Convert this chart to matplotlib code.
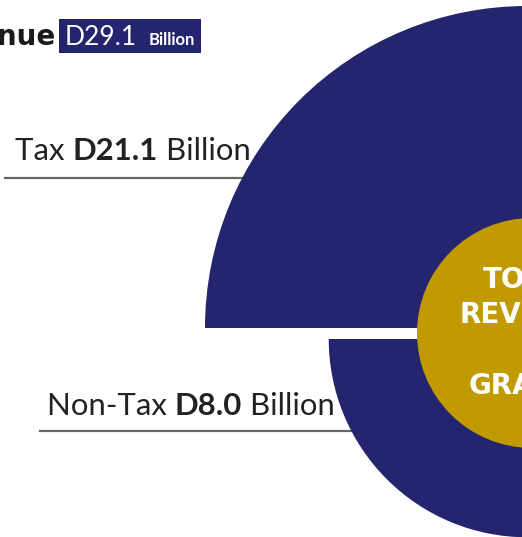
import numpy as np
import matplotlib
matplotlib.use('Agg')
import matplotlib.pyplot as plt
from matplotlib.patches import Wedge, Circle, Rectangle

# data
labels = ['Tax', 'Non-Tax']
values = [21.1, 8.0]   # D billion
total = 29.1
center_text = 'TOTAL\nREVENUE\n&\nGRANTS'

navy = '#25256f'
gold = '#c09a00'
W, H = 522, 537

fig = plt.figure(figsize=(W / 100, H / 100), dpi=100)
ax = fig.add_axes([0, 0, 1, 1])
ax.set_xlim(0, W)
ax.set_ylim(0, H)
ax.axis('off')

def py(y):  # pixel row -> data y
    return H - y

# area proportional radii
k = 322 / np.sqrt(values[0])
radii = [k * np.sqrt(v) for v in values]
cx = 527
centers_y = [328, 339]
angles = [(90, 180), (180, 270)]
for r, cy, (a1, a2) in zip(radii, centers_y, angles):
    ax.add_patch(Wedge((cx, py(cy)), r, a1, a2, facecolor=navy, edgecolor='none', zorder=2))

ax.add_patch(Circle((532, py(333)), 115, facecolor=gold, edgecolor='none', zorder=3))
ax.text(532, py(333), center_text, color='white', ha='center', va='center',
        fontsize=20, fontweight='bold', family='DejaVu Sans',
        linespacing=1.32, zorder=4)

# labels with underlines
lab_pos = [(15, 160, 5, 260, 178), (47, 415, 40, 360, 431)]
for lab, v, (tx, ty, lx0, lx1, ly) in zip(labels, values, lab_pos):
    t = ax.text(tx, py(ty), lab + ' ', fontsize=22.4, family='Lato', color='#222222',
                ha='left', va='baseline', zorder=1)
    fig.canvas.draw()
    bb = t.get_window_extent()
    t2 = ax.text(bb.x1, py(ty), f'D{v:.1f}', fontsize=22.4, family='Lato', fontweight='bold',
                 color='#222222', ha='left', va='baseline', zorder=1)
    fig.canvas.draw()
    bb2 = t2.get_window_extent()
    ax.text(bb2.x1, py(ty), ' Billion', fontsize=22.4, family='Lato', color='#222222',
            ha='left', va='baseline', zorder=1)
    ax.plot([lx0, lx1], [py(ly), py(ly)], color='#666666', lw=1.6, zorder=1)

# title (cut off on left)
ax.text(55, py(45), 'Total Revenue', fontsize=20, fontweight='bold', family='DejaVu Sans',
        color='#1a1a1a', ha='right', va='baseline')
ax.add_patch(Rectangle((59, py(53)), 142, 34, facecolor=navy, edgecolor='none'))
ax.text(65, py(45), f'D{total:.1f}', fontsize=19, family='Lato', color='white',
        ha='left', va='baseline')
ax.text(149, py(45), 'Billion', fontsize=12, family='Lato', fontweight='bold',
        color='white', ha='left', va='baseline')

fig.savefig('out.png', dpi=100)
